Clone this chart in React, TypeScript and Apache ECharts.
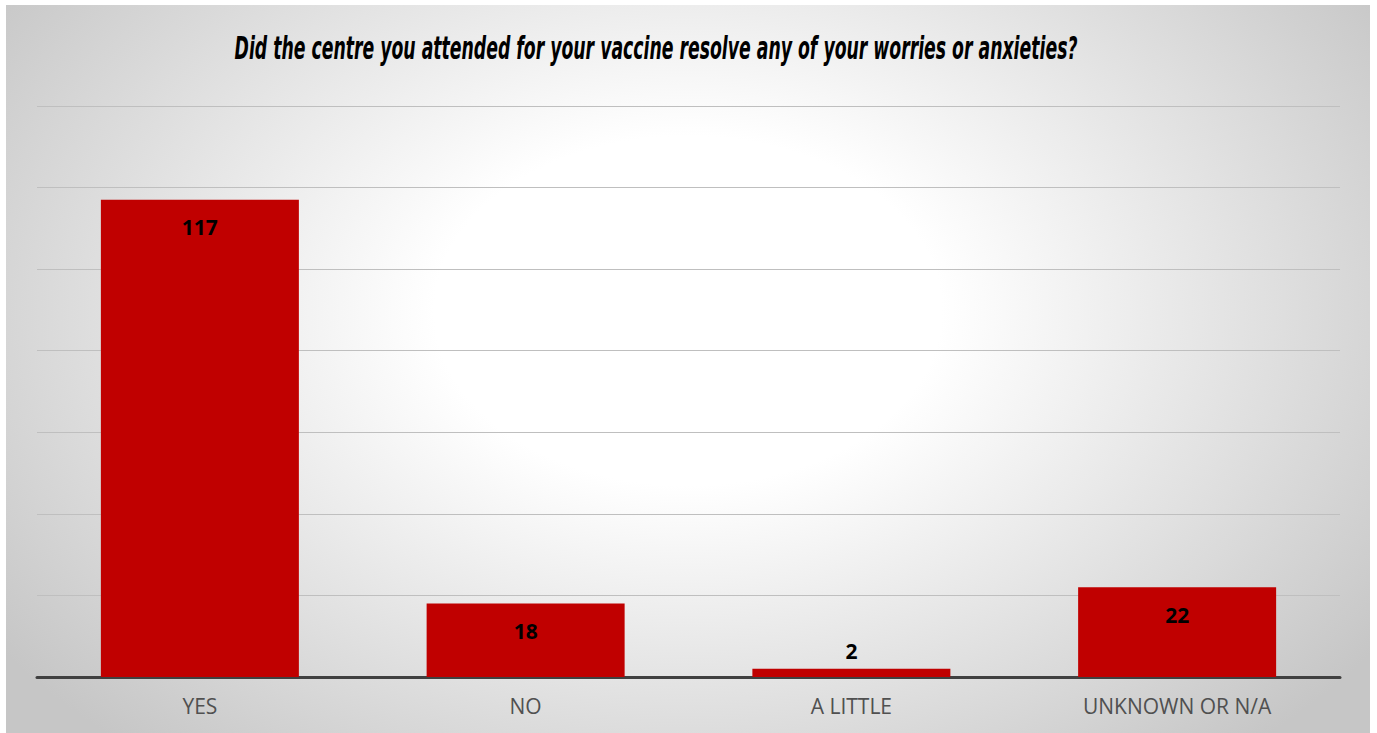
import React, { useEffect, useRef } from "react";
import * as echarts from "echarts";

const TITLE = "Did the centre you attended for your vaccine resolve any of your worries or anxieties?";
const categories = ["YES", "NO", "A LITTLE", "UNKNOWN OR N/A"];
const values = [117, 18, 2, 22];
const labelPositions = ["insideTop", "insideTop", "top", "insideTop"];

export default function App() {
  const ref = useRef<HTMLDivElement>(null);
  useEffect(() => {
    if (!ref.current) return;
    const chart = echarts.init(ref.current, null, { renderer: "svg" });
    chart.setOption({
      animation: false,
      graphic: [
        {
          type: "text",
          x: 650,
          y: 43,
          scaleX: 0.54,
          style: {
            x: 0,
            y: 0,
            text: TITLE,
            fontFamily: "'DejaVu Sans', sans-serif",
            fontWeight: "bold",
            fontStyle: "italic",
            fontSize: 32,
            fill: "#000",
            align: "center",
            verticalAlign: "middle",
          },
        },
      ],
      grid: { left: 31, right: 30, top: 101, bottom: 56, containLabel: false },
      xAxis: {
        type: "category",
        data: categories,
        axisLine: { show: true, lineStyle: { color: "#404040", width: 3 } },
        axisTick: { show: false },
        axisLabel: {
          color: "#505050",
          fontSize: 21,
          fontFamily: "'Open Sans', 'Noto Sans', sans-serif",
          margin: 18,
        },
      },
      yAxis: {
        type: "value",
        min: 0,
        max: 140,
        interval: 20,
        axisLabel: { show: false },
        axisLine: { show: false },
        axisTick: { show: false },
        splitLine: { show: true, lineStyle: { color: "#bfbfbf", width: 1 } },
      },
      series: [
        {
          type: "bar",
          barWidth: 198,
          itemStyle: { color: "#C00000" },
          data: values.map((v, i) => ({
            value: v,
            label: {
              show: true,
              position: labelPositions[i],
              distance: labelPositions[i] === "top" ? 7 : 17,
              color: "#000",
              fontWeight: "bold",
              fontSize: 21,
              fontFamily: "'Open Sans', 'Noto Sans', sans-serif",
            },
          })),
        },
      ],
    });
    return () => chart.dispose();
  }, []);

  return (
    <div style={{ position: "absolute", left: 0, top: 0, width: 1377, height: 733, background: "#fff" }}>
      <div
        style={{
          position: "absolute",
          left: 6,
          top: 5,
          width: 1364,
          height: 728,
          background:
            "radial-gradient(ellipse 62% 80% at 50% 42%, #ffffff 30%, #c6c6c6 100%)",
        }}
      >
        <div ref={ref} style={{ width: 1364, height: 728 }} />
      </div>
    </div>
  );
}
